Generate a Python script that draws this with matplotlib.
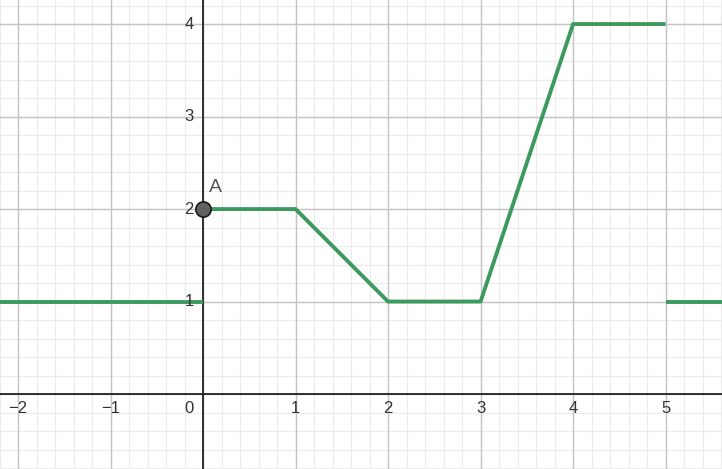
import matplotlib.pyplot as plt
import numpy as np

plt.rcParams['font.family'] = ['Liberation Sans', 'DejaVu Sans']

# piecewise function pieces (x, y)
left_x = [-2.3, 0]
left_y = [1, 1]
mid_x = [0, 1, 2, 3, 4, 5]
mid_y = [2, 2, 1, 1, 4, 4]
right_x = [5, 5.7]
right_y = [1, 1]

point_a = (0, 2)
x_ticks = [-2, -1, 1, 2, 3, 4, 5]
y_ticks = [1, 2, 3, 4]

green = "#3d9a5f"

fig = plt.figure(figsize=(7.22, 4.69), dpi=100)
ax = fig.add_axes([0, 0, 1, 1])
ax.set_xlim(-2.195, 5.61)
ax.set_ylim(-0.81, 4.26)

# grid
for v in np.arange(-2.2, 5.8, 0.2):
    ax.axvline(v, color="#ebebeb", lw=0.8, zorder=0)
for v in np.arange(-0.8, 4.4, 0.2):
    ax.axhline(v, color="#ebebeb", lw=0.8, zorder=0)
for v in range(-2, 6):
    ax.axvline(v, color="#c4c4c4", lw=1.0, zorder=0.5)
for v in range(0, 5):
    ax.axhline(v, color="#c4c4c4", lw=1.0, zorder=0.5)

ax.axhline(0, color="#222222", lw=1.3, zorder=1)
ax.axvline(0, color="#222222", lw=1.3, zorder=1)

lab = dict(fontsize=12, color="#333333")
for t in x_ticks:
    ax.text(t, -0.08, str(t).replace("-", "\u2212"), ha="center", va="top", **lab)
for t in y_ticks:
    ax.text(-0.1, t, str(t), ha="right", va="center", zorder=5, **lab)
ax.text(-0.1, -0.08, "0", ha="right", va="top", **lab)

for xs, ys in [(left_x, left_y), (mid_x, mid_y), (right_x, right_y)]:
    ax.plot(xs, ys, color=green, lw=2.8, solid_capstyle="butt", zorder=3)

ax.plot(*point_a, marker="o", ms=11, mfc="#616161", mec="#1a1a1a", mew=1.2, zorder=4)
ax.text(0.06, 2.14, "A", fontsize=14, color="#555555", ha="left", va="bottom", zorder=4)

ax.axis("off")
fig.savefig("out.png", dpi=100)
